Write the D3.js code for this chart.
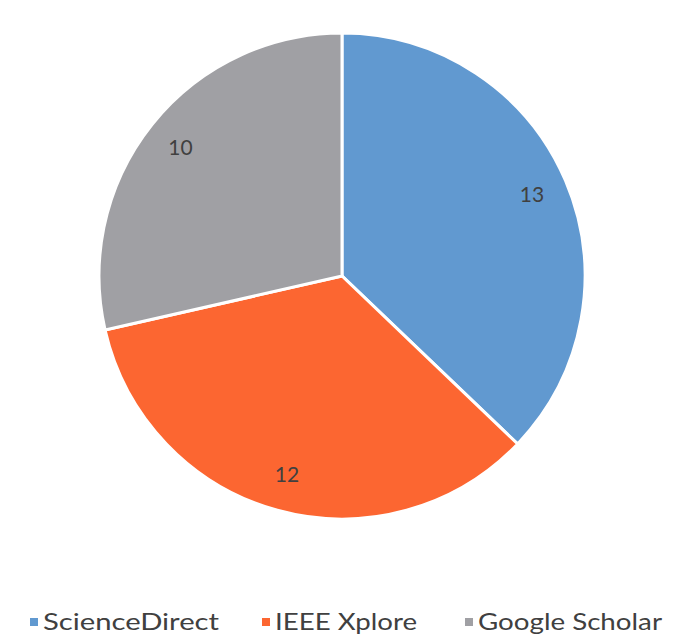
<!DOCTYPE html>
<html>
<head>
<meta charset="utf-8">
<script src="https://cdn.jsdelivr.net/npm/d3@7"></script>
<style>
  body { margin: 0; background: #fff; }
  #chart { width: 681px; height: 644px; }
</style>
</head>
<body>
<div id="chart"></div>
<script>
//Datos
const categories = ['ScienceDirect', 'IEEE Xplore', 'Google Scholar'];
const values = [13, 12, 10];
const colors = ['#6199d0', '#fc6631', '#a0a0a4'];

const width = 681, height = 644;
const cx = 342, cy = 276, radius = 243;

let svg = d3.select('#chart')
    .append('svg')
        .attr('width', width)
        .attr('height', height);

let data = categories.map(function(c, i) { return { name: c, value: values[i], color: colors[i] }; });

let pie = d3.pie()
    .sort(null)
    .value(function(d) { return d.value; });

let arc = d3.arc().innerRadius(0).outerRadius(radius);
let labelArc = d3.arc().innerRadius(radius * 0.85).outerRadius(radius * 0.85);

let g = svg.append('g')
    .attr('transform', 'translate(' + cx + ',' + cy + ')');

let arcs = pie(data);

g.selectAll('path')
    .data(arcs)
    .enter()
    .append('path')
    .attr('d', arc)
    .attr('fill', function(d) { return d.data.color; })
    .attr('stroke', '#fff')
    .attr('stroke-width', 3);

g.selectAll('text')
    .data(arcs)
    .enter()
    .append('text')
    .attr('transform', function(d) { return 'translate(' + labelArc.centroid(d) + ')'; })
    .attr('text-anchor', 'middle')
    .attr('dy', '0.35em')
    .attr('font-family', 'Lato, sans-serif')
    .attr('font-size', 21)
    .attr('fill', '#404040')
    .text(function(d) { return d.data.value; });

//Leyenda
const legendX = [30, 262, 465];
const legendW = [176, 142, 184];

let legend = svg.append('g')
    .attr('transform', 'translate(0,622)');

let items = legend.selectAll('g')
    .data(data)
    .enter()
    .append('g')
    .attr('transform', function(d, i) { return 'translate(' + legendX[i] + ',0)'; });

items.append('rect')
    .attr('x', 0)
    .attr('y', -4)
    .attr('width', 8)
    .attr('height', 8)
    .attr('fill', function(d) { return d.color; });

items.append('text')
    .attr('x', 13)
    .attr('dy', '0.35em')
    .attr('font-family', 'Lato, sans-serif')
    .attr('font-size', 24)
    .attr('fill', '#404040')
    .attr('textLength', function(d, i) { return legendW[i]; })
    .attr('lengthAdjust', 'spacingAndGlyphs')
    .text(function(d) { return d.name; });
</script>
</body>
</html>
